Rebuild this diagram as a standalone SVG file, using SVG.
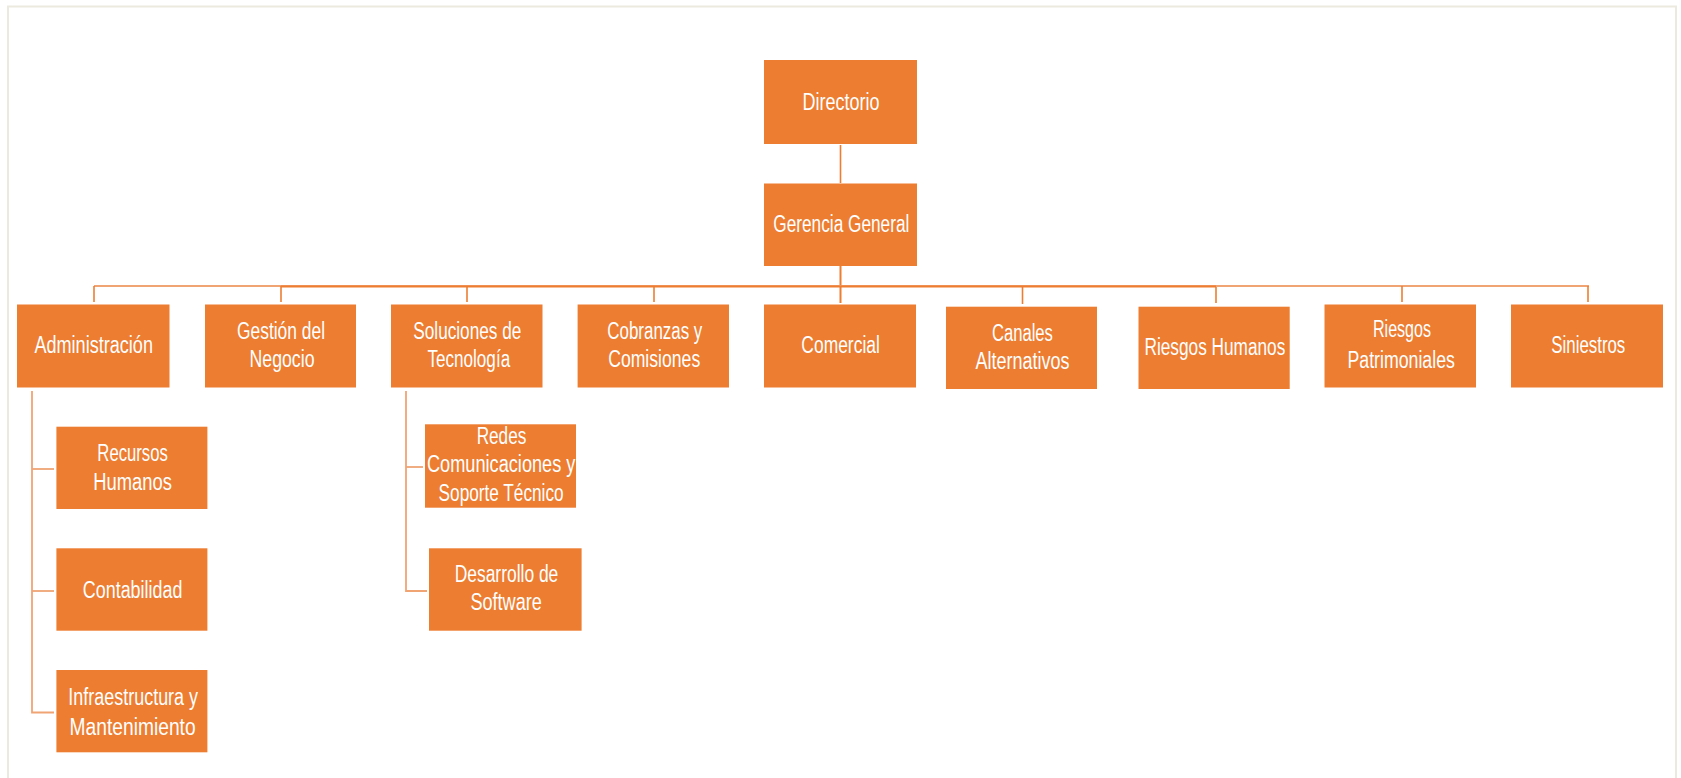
<svg xmlns="http://www.w3.org/2000/svg" width="1681" height="778" viewBox="0 0 1681 778">
<style>
.box{fill:#ED7D31;}
.t{font-family:"Liberation Sans",Arial,sans-serif;font-size:23px;fill:#ffffff;text-anchor:middle;}
.ln{stroke:#ED7D31;stroke-width:1.6;fill:none;}
.lt{stroke:#F0A474;stroke-width:1.8;fill:none;}
</style>
<rect x="0" y="0" width="1681" height="778" fill="#ffffff"/>
<rect x="8" y="6.5" width="1668" height="800" fill="none" stroke="#ECEADF" stroke-width="2"/>
<g id="connectors">
<line class="ln" x1="840.5" y1="145" x2="840.5" y2="183"/>
<line x1="840.5" y1="266" x2="840.5" y2="303" stroke="#ED7D31" stroke-width="2"/>
<line class="lt" x1="94" y1="286" x2="1589" y2="286"/>
<line x1="281" y1="286.5" x2="1216" y2="286.5" stroke="#ED7D31" stroke-width="2.2"/>
<line class="ln" x1="94" y1="286" x2="94" y2="302"/>
<line class="ln" x1="281" y1="286" x2="281" y2="302"/>
<line class="ln" x1="467" y1="286" x2="467" y2="302"/>
<line class="ln" x1="654" y1="286" x2="654" y2="302"/>
<line class="ln" x1="1022.5" y1="287" x2="1022.5" y2="304"/>
<line class="ln" x1="1216" y1="287" x2="1216" y2="303"/>
<line class="ln" x1="1402" y1="286" x2="1402" y2="302"/>
<line class="ln" x1="1588" y1="286" x2="1588" y2="302"/>
<polyline class="lt" points="32,391 32,712.5 54,712.5"/>
<line class="lt" x1="32" y1="469" x2="54" y2="469"/>
<line class="lt" x1="32" y1="591" x2="54" y2="591"/>
<polyline class="lt" points="406,391 406,591 427,591"/>
<line class="lt" x1="406" y1="467" x2="423" y2="467"/>
</g>
<g id="directorio"><rect class="box" x="764" y="60" width="153" height="84"/><text class="t" x="841" y="110" textLength="77" lengthAdjust="spacingAndGlyphs">Directorio</text></g>
<g id="gerencia"><rect class="box" x="764" y="183.5" width="153" height="82.5"/><text class="t" x="841.3" y="231.5" textLength="136" lengthAdjust="spacingAndGlyphs">Gerencia General</text></g>
<g id="administracion"><rect class="box" x="17" y="304.5" width="152.5" height="83"/><text class="t" x="93.7" y="352.7" textLength="118.6" lengthAdjust="spacingAndGlyphs">Administración</text></g>
<g id="gestion"><rect class="box" x="205" y="304.5" width="151" height="83"/><text class="t" x="281" y="339" textLength="88" lengthAdjust="spacingAndGlyphs">Gestión del</text><text class="t" x="282" y="367.3" textLength="65" lengthAdjust="spacingAndGlyphs">Negocio</text></g>
<g id="soluciones"><rect class="box" x="391" y="304.5" width="151.5" height="83"/><text class="t" x="467.3" y="339" textLength="108" lengthAdjust="spacingAndGlyphs">Soluciones de</text><text class="t" x="468.8" y="367.3" textLength="82.7" lengthAdjust="spacingAndGlyphs">Tecnología</text></g>
<g id="cobranzas"><rect class="box" x="577.6" y="304.5" width="151.4" height="83"/><text class="t" x="654.8" y="339" textLength="95" lengthAdjust="spacingAndGlyphs">Cobranzas y</text><text class="t" x="654.2" y="367.3" textLength="92" lengthAdjust="spacingAndGlyphs">Comisiones</text></g>
<g id="comercial"><rect class="box" x="764" y="304.5" width="152" height="83"/><text class="t" x="840.6" y="352.7" textLength="78.5" lengthAdjust="spacingAndGlyphs">Comercial</text></g>
<g id="canales"><rect class="box" x="946" y="306.7" width="151" height="82.3"/><text class="t" x="1022.4" y="341" textLength="61" lengthAdjust="spacingAndGlyphs">Canales</text><text class="t" x="1022.4" y="369.3" textLength="94" lengthAdjust="spacingAndGlyphs">Alternativos</text></g>
<g id="riesgos-humanos"><rect class="box" x="1138.5" y="306.7" width="151.2" height="82.3"/><text class="t" x="1214.9" y="355" textLength="140.8" lengthAdjust="spacingAndGlyphs">Riesgos Humanos</text></g>
<g id="riesgos-patrimoniales"><rect class="box" x="1324.5" y="304.5" width="151.5" height="83"/><text class="t" x="1402" y="337" textLength="58" lengthAdjust="spacingAndGlyphs">Riesgos</text><text class="t" x="1401.2" y="368.3" textLength="107.4" lengthAdjust="spacingAndGlyphs">Patrimoniales</text></g>
<g id="siniestros"><rect class="box" x="1511" y="304.5" width="152" height="83"/><text class="t" x="1588.3" y="352.7" textLength="74" lengthAdjust="spacingAndGlyphs">Siniestros</text></g>
<g id="recursos-humanos"><rect class="box" x="56.4" y="426.7" width="151" height="82.3"/><text class="t" x="132.6" y="461" textLength="70.5" lengthAdjust="spacingAndGlyphs">Recursos</text><text class="t" x="132.6" y="490" textLength="78.7" lengthAdjust="spacingAndGlyphs">Humanos</text></g>
<g id="contabilidad"><rect class="box" x="56.4" y="548.3" width="151" height="82.4"/><text class="t" x="132.6" y="598.3" textLength="99.5" lengthAdjust="spacingAndGlyphs">Contabilidad</text></g>
<g id="infraestructura"><rect class="box" x="56.4" y="670" width="151" height="82.3"/><text class="t" x="133.2" y="705" textLength="129.7" lengthAdjust="spacingAndGlyphs">Infraestructura y</text><text class="t" x="132.6" y="735" textLength="126" lengthAdjust="spacingAndGlyphs">Mantenimiento</text></g>
<g id="redes"><rect class="box" x="425" y="424.3" width="151" height="83.4"/><text class="t" x="501.5" y="443.5" textLength="49.7" lengthAdjust="spacingAndGlyphs">Redes</text><text class="t" x="501.2" y="472" textLength="148.4" lengthAdjust="spacingAndGlyphs">Comunicaciones y</text><text class="t" x="501.1" y="500.5" textLength="125" lengthAdjust="spacingAndGlyphs">Soporte Técnico</text></g>
<g id="desarrollo"><rect class="box" x="429" y="548.3" width="152.6" height="82.4"/><text class="t" x="506.5" y="581.7" textLength="103.6" lengthAdjust="spacingAndGlyphs">Desarrollo de</text><text class="t" x="506.1" y="610" textLength="71.3" lengthAdjust="spacingAndGlyphs">Software</text></g>
</svg>
